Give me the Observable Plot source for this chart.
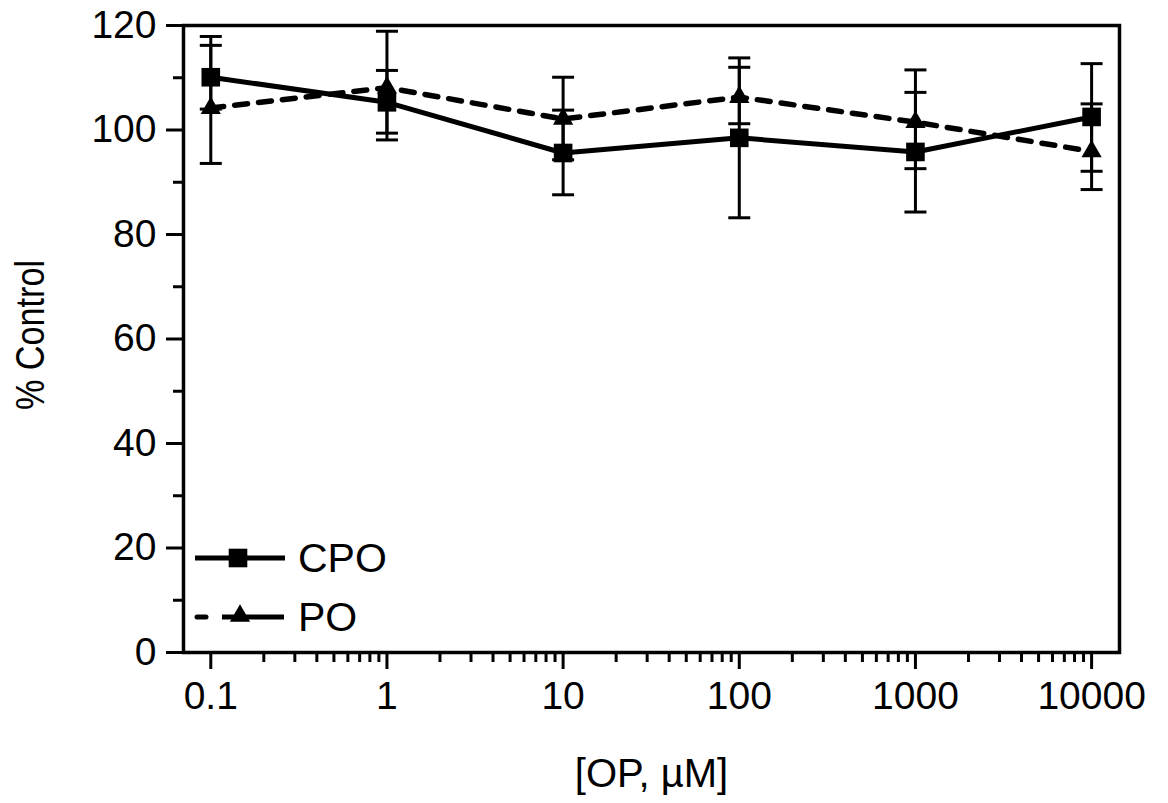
<!DOCTYPE html>
<html>
<head>
<meta charset="utf-8">
<script src="https://cdn.jsdelivr.net/npm/d3@7"></script>
<script src="https://cdn.jsdelivr.net/npm/@observablehq/plot@0.6"></script>
<style>
  html, body { margin: 0; padding: 0; background: #fff; }
  #chart { width: 1168px; height: 803px; }
</style>
</head>
<body>
<div id="chart"></div>
<script>
// ---- data ----
const concentrations = [0.1, 1, 10, 100, 1000, 10000];
const cpoMean = [110.1, 105.3, 95.6, 98.5, 95.8, 102.5];
const cpoLow  = [104.0, 99.4, 87.6, 83.2, 84.3, 92.1];
const cpoHigh = [116.2, 111.4, 103.8, 113.8, 107.2, 112.7];
const poMean  = [104.2, 108.1, 102.1, 106.3, 101.5, 95.9];
const poLow   = [93.6, 98.1, 94.3, 101.2, 92.6, 88.6];
const poHigh  = [117.9, 118.9, 110.1, 112.0, 111.5, 105.0];
const seriesNames = ["CPO", "PO"];
const yMajorTicks = [0, 20, 40, 60, 80, 100, 120];
const yMinorTicks = [10, 30, 50, 70, 90, 110];
const xMajorTicks = [0.1, 1, 10, 100, 1000, 10000];
const xTickLabels = ["0.1", "1", "10", "100", "1000", "10000"];
const xMinorTicks = [0.2,0.3,0.4,0.5,0.6,0.7,0.8,0.9,
                     2,3,4,5,6,7,8,9,
                     20,30,40,50,60,70,80,90,
                     200,300,400,500,600,700,800,900,
                     2000,3000,4000,5000,6000,7000,8000,9000];
const xTitle = "[OP, µM]";
const yTitle = "% Control";

const cpo = concentrations.map((c, i) => ({x: c, y: cpoMean[i], lo: cpoLow[i], hi: cpoHigh[i]}));
const po  = concentrations.map((c, i) => ({x: c, y: poMean[i], lo: poLow[i], hi: poHigh[i]}));

const capSymbol = {
  draw(ctx, size) {
    const w = Math.sqrt(size / Math.PI);
    ctx.moveTo(-w, 0);
    ctx.lineTo(w, 0);
  }
};

const FONT = "'Liberation Sans', Arial, Helvetica, sans-serif";
const labelMap = new Map(xMajorTicks.map((t, i) => [t, xTickLabels[i]]));

const chart = Plot.plot({
  width: 1168,
  height: 803,
  marginLeft: 183,
  marginRight: 49,
  marginTop: 25,
  marginBottom: 151,
  style: { fontFamily: FONT, fontSize: "38px", color: "#000", background: "#fff", overflow: "visible" },
  x: { type: "log", domain: [0.07, 14400] },
  y: { domain: [0, 120] },
  marks: [
    Plot.frame({ stroke: "#000", strokeWidth: 3.5 }),
    Plot.axisY({ ticks: yMajorTicks, tickSize: 17, tickPadding: 10, strokeWidth: 3, label: null, fontSize: 39, tickFormat: d => String(d) }),
    Plot.axisY({ ticks: yMinorTicks, tickSize: 10, strokeWidth: 3, label: null, tickFormat: () => "" }),
    Plot.axisX({ ticks: xMajorTicks, tickSize: 17, tickPadding: 12, strokeWidth: 3, label: null, fontSize: 39, tickFormat: d => labelMap.get(d) }),
    Plot.axisX({ ticks: xMinorTicks, tickSize: 10, strokeWidth: 3, label: null, tickFormat: () => "" }),
    // lines
    Plot.line(cpo, { x: "x", y: "y", stroke: "#000", strokeWidth: 5 }),
    Plot.line(po, { x: "x", y: "y", stroke: "#000", strokeWidth: 5.5, strokeDasharray: "13,11", strokeLinecap: "round" }),
    // error bars
    Plot.ruleX(cpo, { x: "x", y1: "lo", y2: "hi", stroke: "#000", strokeWidth: 3 }),
    Plot.ruleX(po, { x: "x", y1: "lo", y2: "hi", stroke: "#000", strokeWidth: 3 }),
    Plot.dot(cpo, { x: "x", y: "lo", symbol: capSymbol, r: 11, stroke: "#000", strokeWidth: 3 }),
    Plot.dot(cpo, { x: "x", y: "hi", symbol: capSymbol, r: 11, stroke: "#000", strokeWidth: 3 }),
    Plot.dot(po, { x: "x", y: "lo", symbol: capSymbol, r: 11, stroke: "#000", strokeWidth: 3 }),
    Plot.dot(po, { x: "x", y: "hi", symbol: capSymbol, r: 11, stroke: "#000", strokeWidth: 3 }),
    // markers
    Plot.dot(cpo, { x: "x", y: "y", symbol: "square", r: 10.5, fill: "#000", stroke: null }),
    Plot.dot(po, { x: "x", y: "y", symbol: "triangle", r: 7.5, fill: "#000", stroke: null }),
    // titles
    Plot.text([yTitle], { frameAnchor: "left", textAnchor: "middle", lineAnchor: "middle", text: d => d, rotate: -90, dx: -152, dy: -4, fontSize: 40, className: "ytitle" }),
    Plot.text([xTitle], { frameAnchor: "bottom", textAnchor: "middle", lineAnchor: "middle", text: d => d, dy: 122, fontSize: 40 })
  ]
});

document.getElementById("chart").appendChild(chart);

const svg = d3.select(chart);
// condense the y title to the width seen in the original
svg.selectAll(".ytitle text").attr("textLength", 150).attr("lengthAdjust", "spacingAndGlyphs");

// legend (screen-space key, like the original inset)
const lg = svg.append("g").attr("font-family", FONT).attr("font-size", 41)
  .attr("fill", "#000").attr("text-anchor", "start");
// CPO entry
lg.append("line").attr("x1", 195).attr("x2", 285).attr("y1", 558).attr("y2", 558)
  .attr("stroke", "#000").attr("stroke-width", 5);
lg.append("path").attr("transform", "translate(238,558)")
  .attr("d", d3.symbol(d3.symbolSquare, 10.5 * 10.5 * Math.PI)());
lg.append("text").attr("x", 298).attr("y", 558).attr("dy", "0.35em").text(seriesNames[0]);
// PO entry
lg.append("line").attr("x1", 197).attr("x2", 206).attr("y1", 617).attr("y2", 617)
  .attr("stroke", "#000").attr("stroke-width", 5).attr("stroke-linecap", "round");
lg.append("line").attr("x1", 222).attr("x2", 284).attr("y1", 617).attr("y2", 617)
  .attr("stroke", "#000").attr("stroke-width", 5);
lg.append("path").attr("transform", "translate(240,616)")
  .attr("d", d3.symbol(d3.symbolTriangle, 7.5 * 7.5 * Math.PI)());
lg.append("text").attr("x", 298).attr("y", 617).attr("dy", "0.35em").text(seriesNames[1]);
</script>
</body>
</html>
